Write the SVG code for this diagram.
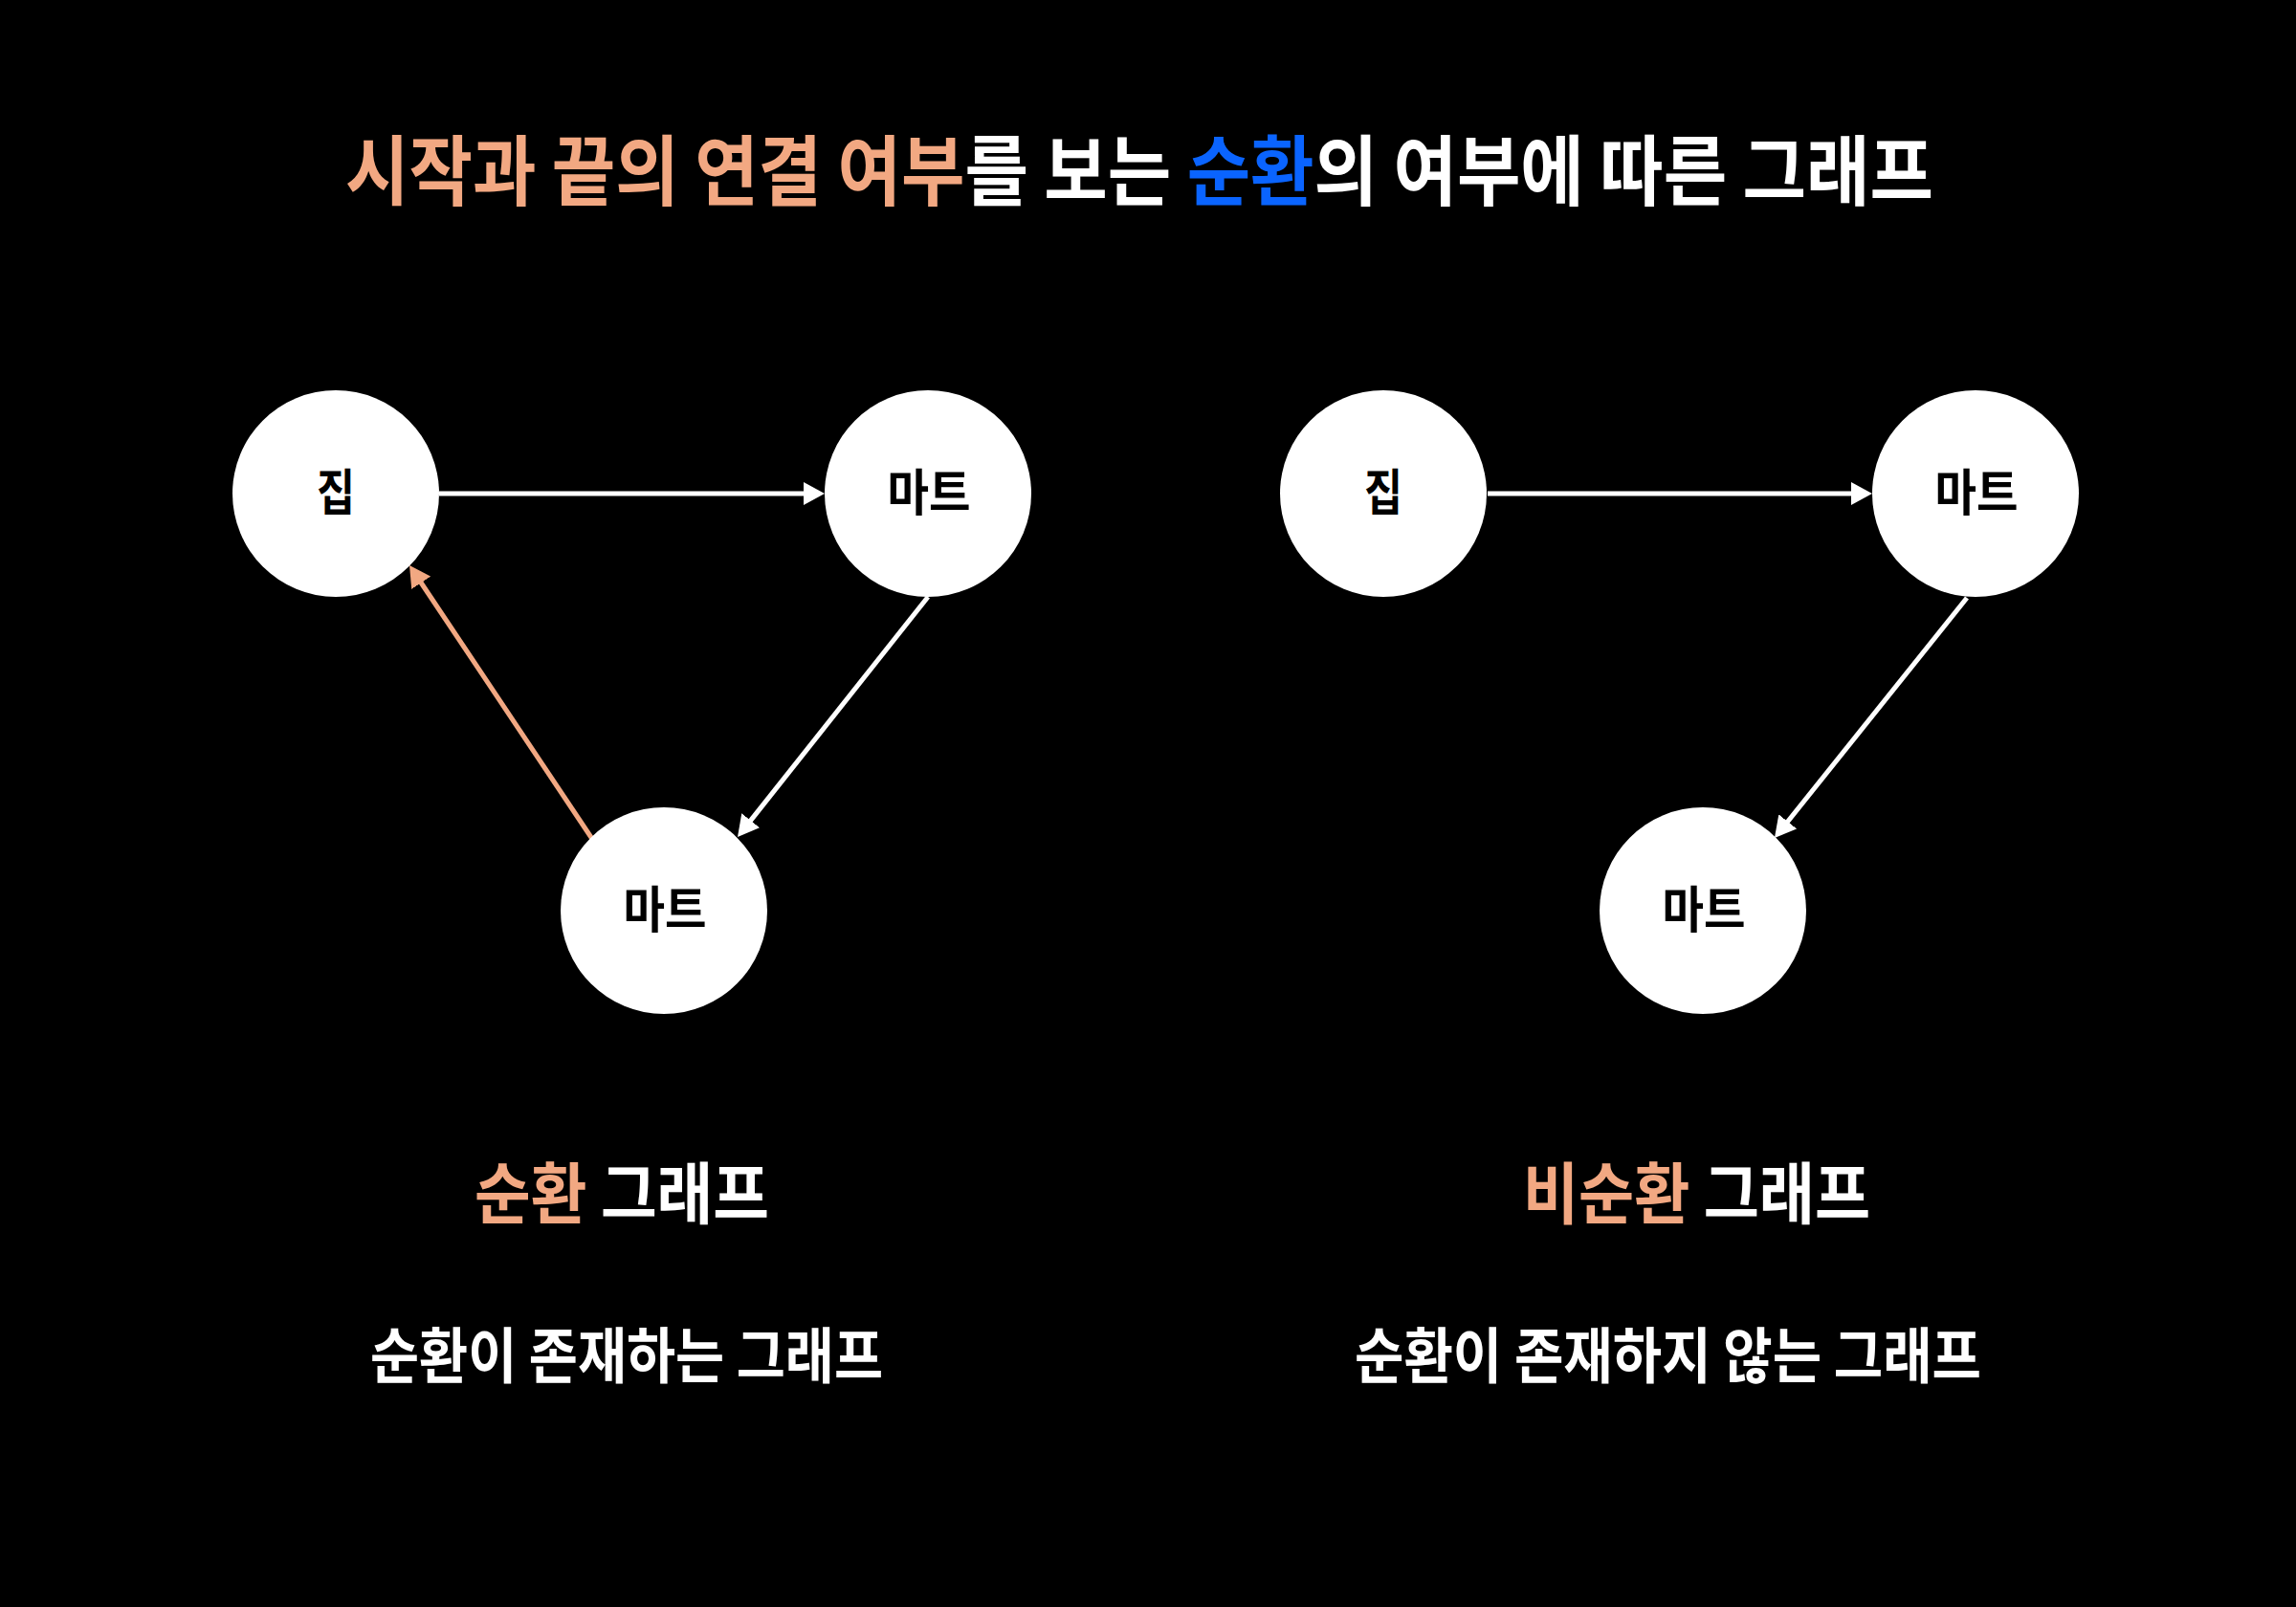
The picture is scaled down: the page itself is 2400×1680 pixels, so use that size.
<svg xmlns="http://www.w3.org/2000/svg" width="2400" height="1680" viewBox="0 0 2400 1680">
  <defs>
    <style>
      text { font-family: "Noto Sans CJK KR", "Noto Sans", sans-serif; }
      .title { font-size: 80px; font-weight: 600; fill: #ffffff; }
      .or { fill: #F2A882; }
      .bl { fill: #0A64FF; }
      .node circle { fill: #ffffff; }
      .node text { font-size: 52px; font-weight: 700; fill: #000000; text-anchor: middle; }
      .sub { font-size: 70px; font-weight: 600; fill: #ffffff; }
      .desc { font-size: 63px; font-weight: 600; fill: #ffffff; }
      .edge { stroke: #ffffff; stroke-width: 5; fill: none; marker-end: url(#aw); }
      .edge.cyc { stroke: #F2A882; marker-end: url(#ao); }
    </style>
    <marker id="aw" markerUnits="userSpaceOnUse" viewBox="0 0 22 24" markerWidth="22" markerHeight="24" refX="4" refY="12" orient="auto">
      <path d="M0,0 L22,12 L0,24 z" fill="#ffffff"/>
    </marker>
    <marker id="ao" markerUnits="userSpaceOnUse" viewBox="0 0 22 24" markerWidth="22" markerHeight="24" refX="4" refY="12" orient="auto">
      <path d="M0,0 L22,12 L0,24 z" fill="#F2A882"/>
    </marker>
  </defs>
  <rect width="2400" height="1680" fill="#000000"/>

  <text id="title" class="title" x="361" y="208" textLength="1660" lengthAdjust="spacingAndGlyphs"><tspan class="or">시작과 끝의 연결 여부</tspan>를 보는 <tspan class="bl">순환</tspan>의 여부에 따른 그래프</text>

  <g id="connectors">
    <line class="edge" x1="459" y1="516" x2="844" y2="516"/>
    <line class="edge" x1="970" y1="624" x2="782.2" y2="860.9"/>
    <line class="edge cyc" x1="619" y1="877" x2="438" y2="606"/>
    <line class="edge" x1="1555" y1="516" x2="1939" y2="516"/>
    <line class="edge" x1="2056" y1="625" x2="1866.2" y2="862"/>
  </g>

  <g id="node-l-home" class="node">
    <circle cx="351" cy="516" r="108"/>
    <text x="351" y="534" textLength="40" lengthAdjust="spacingAndGlyphs">집</text>
  </g>
  <g id="node-l-mart1" class="node">
    <circle cx="970" cy="516" r="108"/>
    <text x="971" y="534" textLength="87" lengthAdjust="spacingAndGlyphs">마트</text>
  </g>
  <g id="node-l-mart2" class="node">
    <circle cx="694" cy="952" r="108"/>
    <text x="695" y="970" textLength="87" lengthAdjust="spacingAndGlyphs">마트</text>
  </g>
  <g id="node-r-home" class="node">
    <circle cx="1446" cy="516" r="108"/>
    <text x="1446" y="534" textLength="40" lengthAdjust="spacingAndGlyphs">집</text>
  </g>
  <g id="node-r-mart1" class="node">
    <circle cx="2065" cy="516" r="108"/>
    <text x="2066" y="534" textLength="87" lengthAdjust="spacingAndGlyphs">마트</text>
  </g>
  <g id="node-r-mart2" class="node">
    <circle cx="1780" cy="952" r="108"/>
    <text x="1781" y="970" textLength="87" lengthAdjust="spacingAndGlyphs">마트</text>
  </g>

  <text id="sub-left" class="sub" x="496" y="1274" textLength="308" lengthAdjust="spacingAndGlyphs"><tspan class="or">순환</tspan> 그래프</text>
  <text id="desc-left" class="desc" x="387" y="1440" textLength="536" lengthAdjust="spacingAndGlyphs">순환이 존재하는 그래프</text>

  <text id="sub-right" class="sub" x="1592" y="1274" textLength="363" lengthAdjust="spacingAndGlyphs"><tspan class="or">비순환</tspan> 그래프</text>
  <text id="desc-right" class="desc" x="1416" y="1440" textLength="655" lengthAdjust="spacingAndGlyphs">순환이 존재하지 않는 그래프</text>
</svg>
